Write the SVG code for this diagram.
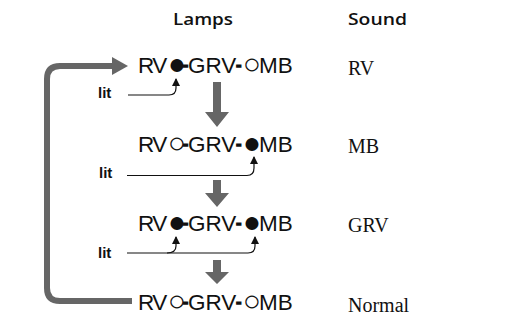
<svg xmlns="http://www.w3.org/2000/svg" width="510" height="326" viewBox="0 0 510 326">
<defs>
<style>
.hdr{font-family:"Open Sans","Liberation Sans",sans-serif;font-weight:600;font-size:17px;fill:#111}
.lamp{font-family:"Liberation Sans",Arial,sans-serif;font-size:22.5px;fill:#111}
.rv{letter-spacing:-1.5px}
.c{font-size:30px;letter-spacing:-3px}
.c2{font-size:30px;letter-spacing:-2px}
.dash{font-size:15px;font-weight:bold;stroke:#111;stroke-width:1.6}
.snd{font-family:"Liberation Serif","Times New Roman",serif;font-size:20px;fill:#111}
.lit{font-family:"Liberation Sans",Arial,sans-serif;font-weight:bold;font-size:15px;fill:#111}
.thin{fill:none;stroke:#111;stroke-width:1.2;marker-end:url(#ah)}
.big{fill:#666}
.loop{fill:none;stroke:#666;stroke-width:6;marker-end:url(#bh)}
</style>
<marker id="ah" markerUnits="userSpaceOnUse" markerWidth="8" markerHeight="8" refX="7" refY="4" orient="auto">
<path d="M0,0 L8,4 L0,8 z" fill="#111"/>
</marker>
<marker id="bh" markerUnits="userSpaceOnUse" markerWidth="18" markerHeight="20" refX="2" refY="10" orient="auto">
<path d="M0,1 L16,10 L0,19 z" fill="#666"/>
</marker>
</defs>
<g id="headers">
<text class="hdr" x="173" y="25" textLength="60" lengthAdjust="spacingAndGlyphs">Lamps</text>
<text class="hdr" x="348" y="25" textLength="59" lengthAdjust="spacingAndGlyphs">Sound</text>
</g>
<g id="state1">
<text class="lamp" x="138" y="73"><tspan class="rv">RV</tspan><tspan class="c" dx="2" dy="1.2">●</tspan><tspan class="dash" dy="-4.2">-</tspan><tspan dy="3">GRV</tspan><tspan class="dash" dy="-3">-</tspan><tspan class="c2" dx="1.5" dy="4.2">○</tspan><tspan dy="-1.2">MB</tspan></text>
<text class="snd" x="348" y="75">RV</text>
</g>
<g id="state2">
<text class="lamp" x="138" y="152"><tspan class="rv">RV</tspan><tspan class="c" dx="2" dy="1.2">○</tspan><tspan class="dash" dy="-4.2">-</tspan><tspan dy="3">GRV</tspan><tspan class="dash" dy="-3">-</tspan><tspan class="c2" dx="1.5" dy="4.2">●</tspan><tspan dy="-1.2">MB</tspan></text>
<text class="snd" x="348" y="153">MB</text>
</g>
<g id="state3">
<text class="lamp" x="138" y="231"><tspan class="rv">RV</tspan><tspan class="c" dx="2" dy="1.2">●</tspan><tspan class="dash" dy="-4.2">-</tspan><tspan dy="3">GRV</tspan><tspan class="dash" dy="-3">-</tspan><tspan class="c2" dx="1.5" dy="4.2">●</tspan><tspan dy="-1.2">MB</tspan></text>
<text class="snd" x="348" y="232">GRV</text>
</g>
<g id="state4">
<text class="lamp" x="138" y="310"><tspan class="rv">RV</tspan><tspan class="c" dx="2" dy="1.2">○</tspan><tspan class="dash" dy="-4.2">-</tspan><tspan dy="3">GRV</tspan><tspan class="dash" dy="-3">-</tspan><tspan class="c2" dx="1.5" dy="4.2">○</tspan><tspan dy="-1.2">MB</tspan></text>
<text class="snd" x="348" y="312">Normal</text>
</g>
<g id="lit-labels">
<text class="lit" x="98" y="98">lit</text>
<text class="lit" x="99" y="178">lit</text>
<text class="lit" x="98" y="258">lit</text>
</g>
<g id="connectors">
<path class="thin" d="M128,95 H169 Q176,95 176,88 V79"/>
<path class="thin" d="M127,175.5 H247 Q254,175.5 254,168 V157"/>
<path class="thin" d="M127,253 H248 Q255,253 255,246 V237"/>
<path class="thin" d="M167,253 Q176,253 176,246 V237"/>
<path class="big" d="M213,82 H221 V112 H229 L217,127 L205,112 H213 Z"/>
<path class="big" d="M213,180 H221 V193 H229 L217,207 L205,193 H213 Z"/>
<path class="big" d="M213,260 H221 V272 H229 L217,284 L205,272 H213 Z"/>
<path class="loop" d="M132,301 H60 Q47,301 47,288 V79 Q47,66 60,66 H114"/>
</g>
</svg>
